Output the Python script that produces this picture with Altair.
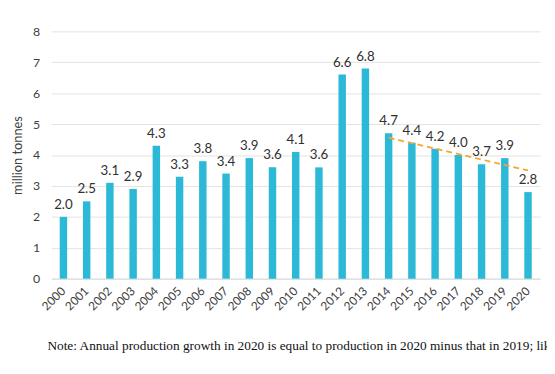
import altair as alt
import pandas as pd

years = [str(y) for y in range(2000, 2021)]
production = [2.0, 2.5, 3.1, 2.9, 4.3, 3.3, 3.8, 3.4, 3.9, 3.6, 4.1, 3.6,
              6.6, 6.8, 4.7, 4.4, 4.2, 4.0, 3.7, 3.9, 2.8]
trend_years = ["2014", "2020"]
trend_values = [4.56, 3.50]
note = "Note: Annual production growth in 2020 is equal to production in 2020 minus that in 2019; likew"

df = pd.DataFrame({"year": years, "value": production})
df_trend = pd.DataFrame({"year": trend_years, "value": trend_values})

FONT = "Lato"
x_scale = alt.Scale(paddingInner=0.68, paddingOuter=0.36)
y_scale = alt.Scale(domain=[0, 8], nice=False)

X = alt.X("year:N", sort=years, scale=x_scale,
          axis=alt.Axis(title=None, labelAngle=-45, labelAlign="right", labelBaseline="middle",
                        labelPadding=10, ticks=False, domain=True, domainColor="#d9d9d9",
                        labelColor="#404040", labelFontSize=12, labelFont=FONT))
Y = alt.Y("value:Q", scale=y_scale,
          axis=alt.Axis(title="million tonnes", values=[0, 1, 2, 3, 4, 5, 6, 7, 8],
                        labelOverlap=False, domain=False, ticks=False,
                        labelPadding=12, labelColor="#404040", labelFontSize=12.5, labelFont=FONT,
                        titleFont=FONT, titleFontSize=13, titleFontWeight="normal",
                        titleColor="#404040", titlePadding=8, gridColor="#e3e3e3"))

bars = alt.Chart(df).mark_bar(color="#2bb9d7").encode(x=X, y=Y)

labels = alt.Chart(df).mark_text(dy=-12, fontSize=13.5, font=FONT, color="#303030").encode(
    x=X, y=Y, text=alt.Text("value:Q", format=".1f"),
)

trend = alt.Chart(df_trend).mark_line(color="#f2a72e", strokeDash=[6, 4], strokeWidth=1.8).encode(
    x=X, y=Y,
)

note_text = alt.Chart(pd.DataFrame({"t": [note]})).mark_text(
    align="left", baseline="middle", font="Liberation Serif", fontSize=13.5, color="#111111"
).encode(x=alt.value(-4), y=alt.value(319), text="t:N")

chart = alt.layer(bars, labels, trend, note_text).properties(
    width=496, height=251,
    autosize=alt.AutoSizeParams(type="none"),
    padding={"left": 44, "top": 21, "right": 7, "bottom": 90},
).configure_view(stroke=None)

chart.save("out.html", embed_options={"renderer": "svg", "actions": False})
